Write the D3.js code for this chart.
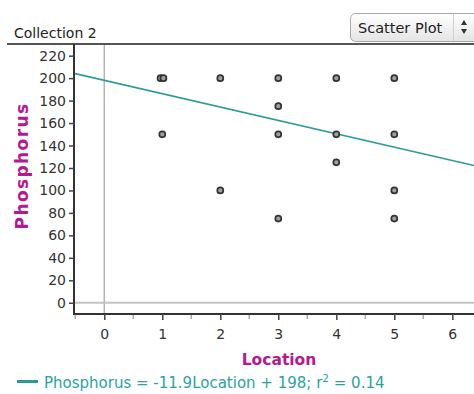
<!DOCTYPE html>
<html>
<head>
<meta charset="utf-8">
<script src="https://cdn.jsdelivr.net/npm/d3@7"></script>
<style>
  html, body { margin: 0; padding: 0; background: #fff; }
  svg { display: block; font-family: 'DejaVu Sans', Verdana, sans-serif; }
</style>
</head>
<body>
<div id="chart"></div>
<script>
// ── DATA ──────────────────────────────────────────────────────────────────
const location_ = [0.97, 1.02, 1, 2, 2, 3, 3, 3, 3, 4, 4, 4, 5, 5, 5, 5];
const phosphorus = [200, 200, 150, 200, 100, 200, 175, 150, 75, 200, 150, 125, 200, 150, 100, 75];
const fitSlope = -11.9, fitIntercept = 198, fitR2 = 0.14;
const yTicks = [0, 20, 40, 60, 80, 100, 120, 140, 160, 180, 200, 220];
const xTicks = [0, 1, 2, 3, 4, 5, 6];

const W = 474, H = 394;
const svg = d3.select('#chart').append('svg').attr('width', W).attr('height', H);

// ── HEADER ────────────────────────────────────────────────────────────────
svg.append('text').attr('x', 14).attr('y', 38)
  .attr('font-size', '14px').attr('fill', '#222').text('Collection 2');

const btn = svg.append('g');
btn.append('defs').append('linearGradient').attr('id', 'btnGrad')
  .attr('x1', 0).attr('y1', 0).attr('x2', 0).attr('y2', 1)
  .selectAll('stop').data([['0%', '#ffffff'], ['100%', '#e4e4e4']]).enter().append('stop')
  .attr('offset', d => d[0]).attr('stop-color', d => d[1]);
btn.append('rect').attr('x', 350.5).attr('y', 13.5).attr('width', 140).attr('height', 28).attr('rx', 5)
  .attr('fill', 'url(#btnGrad)').attr('stroke', '#a8a8a8');
btn.append('line').attr('x1', 453.5).attr('x2', 453.5).attr('y1', 14).attr('y2', 41)
  .attr('stroke', '#cfcfcf');
btn.append('text').attr('x', 358).attr('y', 33).attr('font-size', '14.5px').attr('fill', '#222')
  .text('Scatter Plot');
btn.append('path').attr('d', 'M461,25 L464,20 L467,25 Z').attr('fill', '#333');
btn.append('path').attr('d', 'M461,29 L464,34 L467,29 Z').attr('fill', '#333');

svg.append('line').attr('x1', 7).attr('x2', W).attr('y1', 44).attr('y2', 44)
  .attr('stroke', '#555').attr('stroke-width', 2);

// ── SCALES ────────────────────────────────────────────────────────────────
const pL = 74, pR = W, pT = 45, pB = 314;
const x = d3.scaleLinear().domain([-0.522, 6.374]).range([pL, pR]);
const y = d3.scaleLinear().domain([-10, 229.5]).range([pB, pT]);

const plot = svg.append('g');
plot.append('clipPath').attr('id', 'clip').append('rect')
  .attr('x', pL).attr('y', pT).attr('width', pR - pL).attr('height', pB - pT);

// Zero lines
plot.append('line').attr('x1', x(0)).attr('x2', x(0)).attr('y1', pT).attr('y2', pB)
  .attr('stroke', '#b4b4b4').attr('stroke-width', 1.5);
plot.append('line').attr('x1', pL).attr('x2', pR).attr('y1', y(0)).attr('y2', y(0))
  .attr('stroke', '#c4c4c4').attr('stroke-width', 2);

// Regression line
const [x0, x1] = x.domain();
plot.append('line').attr('clip-path', 'url(#clip)')
  .attr('x1', x(x0)).attr('y1', y(fitIntercept + fitSlope * x0))
  .attr('x2', x(x1)).attr('y2', y(fitIntercept + fitSlope * x1))
  .attr('stroke', '#2a9c97').attr('stroke-width', 1.6);

// Points
plot.selectAll('.pt').data(location_.map((d, i) => [d, phosphorus[i]])).enter().append('circle')
  .attr('class', 'pt').attr('cx', d => x(d[0])).attr('cy', d => y(d[1])).attr('r', 3)
  .attr('fill', '#a0a0a0').attr('stroke', '#333').attr('stroke-width', 1.7);

// ── AXES ──────────────────────────────────────────────────────────────────
const yAxis = svg.append('g').attr('transform', `translate(${pL},0)`)
  .call(d3.axisLeft(y).tickValues(yTicks).tickSize(5).tickPadding(3));
yAxis.select('.domain').attr('stroke', '#333').attr('stroke-width', 2)
  .attr('d', `M0,${pT - 1}V${pB + 1}`);
yAxis.selectAll('.tick line').attr('stroke', '#444').attr('stroke-width', 1.5);
yAxis.selectAll('.tick text').attr('font-size', '14px').attr('fill', '#333')
  .attr('font-family', 'DejaVu Sans, sans-serif');

const xAxis = svg.append('g').attr('transform', `translate(0,${pB})`)
  .call(d3.axisBottom(x).tickValues(xTicks).tickFormat(d3.format('d')).tickSize(6).tickPadding(9));
xAxis.select('.domain').attr('stroke', '#333').attr('stroke-width', 2)
  .attr('d', `M${pL - 1},0H${pR}`);
xAxis.selectAll('.tick line').attr('stroke', '#444').attr('stroke-width', 1.5);
xAxis.selectAll('.tick text').attr('font-size', '14px').attr('fill', '#333')
  .attr('font-family', 'DejaVu Sans, sans-serif');

// half-unit minor ticks
const minor = d3.range(-0.5, 6.5, 1);
svg.append('g').selectAll('line').data(minor).enter().append('line')
  .attr('x1', d => x(d)).attr('x2', d => x(d)).attr('y1', pB + 1).attr('y2', pB + 5)
  .attr('stroke', '#aaa').attr('stroke-width', 1.5);

// Axis titles
svg.append('text').attr('x', 279).attr('y', 365).attr('text-anchor', 'middle')
  .attr('font-size', '15.5px').attr('font-weight', 'bold').attr('fill', '#b5188f').text('Location');
svg.append('text').attr('transform', 'translate(28,166) rotate(-90)').attr('text-anchor', 'middle')
  .attr('font-size', '17px').attr('font-weight', 'bold').attr('letter-spacing', '1.4px')
  .attr('fill', '#b5188f').text('Phosphorus');

// ── LEGEND ────────────────────────────────────────────────────────────────
svg.append('line').attr('x1', 17).attr('x2', 38).attr('y1', 381.5).attr('y2', 381.5)
  .attr('stroke', '#2a9c97').attr('stroke-width', 3);
const leg = svg.append('text').attr('x', 44).attr('y', 388)
  .attr('font-size', '15px').attr('fill', '#2aa3a0');
leg.append('tspan').text(`Phosphorus = ${fitSlope}Location + ${fitIntercept}; r`);
leg.append('tspan').attr('dy', -6).attr('font-size', '10.5px').text('2');
leg.append('tspan').attr('dy', 6).text(` = ${fitR2}`);
</script>
</body>
</html>
